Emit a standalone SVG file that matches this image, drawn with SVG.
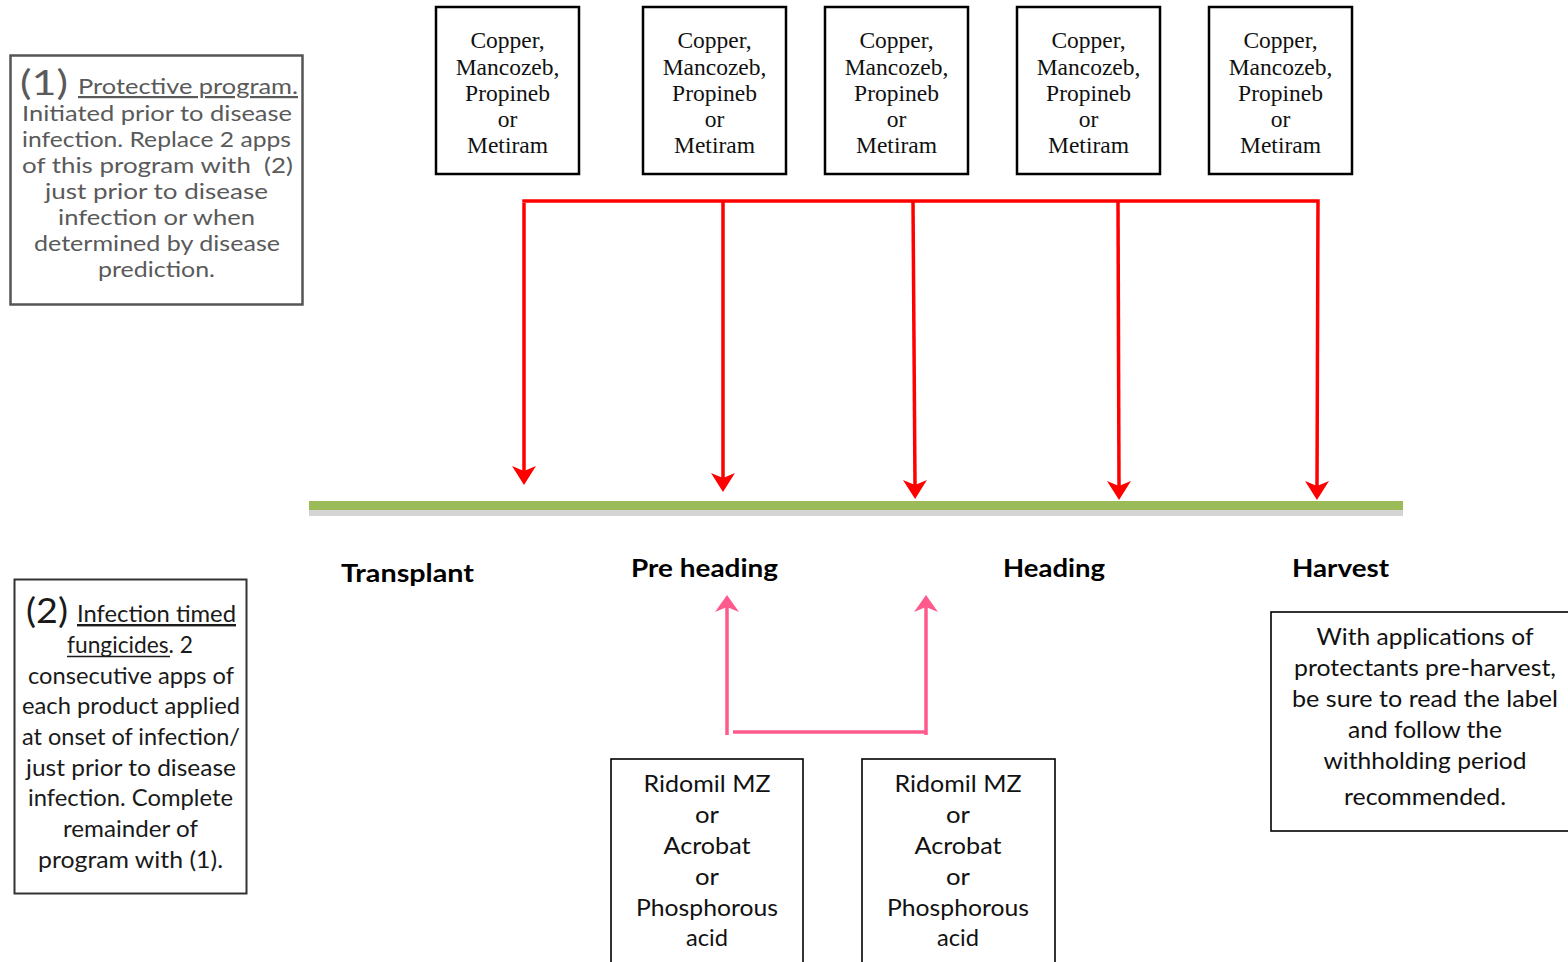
<svg xmlns="http://www.w3.org/2000/svg" width="1568" height="962" viewBox="0 0 1568 962">
<style>
.serif{font-family:"Liberation Serif","Times New Roman",serif;font-size:23.5px;fill:#111;text-anchor:middle}
.sans{font-family:Lato,"Noto Sans",sans-serif;font-size:24px;fill:#111}
.mid{text-anchor:middle}
.bold{font-weight:700;font-size:25px;fill:#000}
.gray{fill:#5a5a5a;font-size:22px}
.dark{fill:#1a1a1a;font-size:24px}
.big{font-size:34px}
.box{fill:#fff;stroke:#000;stroke-width:2.5}
.thin{fill:#fff;stroke:#000;stroke-width:1.6}
.red{fill:none;stroke:#ff0000;stroke-width:3.5}
.pink{fill:none;stroke:#ff5a8c;stroke-width:3.5}
</style>
<defs>
<marker id="ar" markerUnits="userSpaceOnUse" markerWidth="26" markerHeight="28" viewBox="-1 -14 24 28" refX="5" refY="0" orient="auto">
<path d="M0,-12 L19,0 L0,12 L5,0 z" fill="#ff0000"/>
</marker>
<marker id="ap" markerUnits="userSpaceOnUse" markerWidth="26" markerHeight="28" viewBox="-1 -14 24 28" refX="5" refY="0" orient="auto">
<path d="M0,-12 L17,0 L0,12 L5,0 z" fill="#ff5a8c"/>
</marker>
</defs>
<rect width="1568" height="962" fill="#fff"/>

<g id="note1">
<rect x="10.5" y="55.5" width="292" height="249" fill="#fff" stroke="#555" stroke-width="2.5"/>
<text class="sans gray big" x="20" y="95" textLength="48" lengthAdjust="spacingAndGlyphs">(1)</text>
<text class="sans gray" x="78" y="94" textLength="220" lengthAdjust="spacingAndGlyphs" text-decoration="underline">Protective program.</text>
<text class="sans gray" x="22" y="121" textLength="270" lengthAdjust="spacingAndGlyphs">Initiated prior to disease</text>
<text class="sans gray" x="22" y="147" textLength="269" lengthAdjust="spacingAndGlyphs">infection. Replace 2 apps</text>
<text class="sans gray" x="22" y="173" textLength="271" lengthAdjust="spacingAndGlyphs" xml:space="preserve">of this program with  (2)</text>
<text class="sans gray" x="45" y="199" textLength="223" lengthAdjust="spacingAndGlyphs">just prior to disease</text>
<text class="sans gray" x="58" y="225" textLength="197" lengthAdjust="spacingAndGlyphs">infection or when</text>
<text class="sans gray" x="34" y="251" textLength="246" lengthAdjust="spacingAndGlyphs">determined by disease</text>
<text class="sans gray" x="98" y="277" textLength="117" lengthAdjust="spacingAndGlyphs">prediction.</text>
</g>

<g id="note2">
<rect x="14.5" y="579.5" width="232" height="314" fill="#fff" stroke="#333" stroke-width="2"/>
<text class="sans dark big" x="26" y="623" textLength="42" lengthAdjust="spacingAndGlyphs">(2)</text>
<text class="sans dark" x="77" y="622" textLength="159" lengthAdjust="spacingAndGlyphs" text-decoration="underline">Infection timed</text>
<text class="sans dark" x="67" y="653" textLength="126" lengthAdjust="spacingAndGlyphs">fungicides. 2</text>
<line x1="67" y1="656.5" x2="170" y2="656.5" stroke="#1a1a1a" stroke-width="1.6"/>
<text class="sans dark" x="28" y="684" textLength="206" lengthAdjust="spacingAndGlyphs">consecutive apps of</text>
<text class="sans dark" x="22" y="714" textLength="218" lengthAdjust="spacingAndGlyphs">each product applied</text>
<text class="sans dark" x="22" y="745" textLength="218" lengthAdjust="spacingAndGlyphs">at onset of infection/</text>
<text class="sans dark" x="26" y="776" textLength="210" lengthAdjust="spacingAndGlyphs">just prior to disease</text>
<text class="sans dark" x="28" y="806" textLength="205" lengthAdjust="spacingAndGlyphs">infection. Complete</text>
<text class="sans dark" x="63" y="837" textLength="135" lengthAdjust="spacingAndGlyphs">remainder of</text>
<text class="sans dark" x="38" y="868" textLength="185" lengthAdjust="spacingAndGlyphs">program with (1).</text>
</g>

<g id="p1">
<rect class="box" x="436" y="7" width="143" height="167"/>
<text class="serif" x="507.5" y="48">Copper,</text>
<text class="serif" x="507.5" y="75">Mancozeb,</text>
<text class="serif" x="507.5" y="101">Propineb</text>
<text class="serif" x="507.5" y="127">or</text>
<text class="serif" x="507.5" y="153">Metiram</text>
</g>
<g id="p2">
<rect class="box" x="643" y="7" width="143" height="167"/>
<text class="serif" x="714.5" y="48">Copper,</text>
<text class="serif" x="714.5" y="75">Mancozeb,</text>
<text class="serif" x="714.5" y="101">Propineb</text>
<text class="serif" x="714.5" y="127">or</text>
<text class="serif" x="714.5" y="153">Metiram</text>
</g>
<g id="p3">
<rect class="box" x="825" y="7" width="143" height="167"/>
<text class="serif" x="896.5" y="48">Copper,</text>
<text class="serif" x="896.5" y="75">Mancozeb,</text>
<text class="serif" x="896.5" y="101">Propineb</text>
<text class="serif" x="896.5" y="127">or</text>
<text class="serif" x="896.5" y="153">Metiram</text>
</g>
<g id="p4">
<rect class="box" x="1017" y="7" width="143" height="167"/>
<text class="serif" x="1088.5" y="48">Copper,</text>
<text class="serif" x="1088.5" y="75">Mancozeb,</text>
<text class="serif" x="1088.5" y="101">Propineb</text>
<text class="serif" x="1088.5" y="127">or</text>
<text class="serif" x="1088.5" y="153">Metiram</text>
</g>
<g id="p5">
<rect class="box" x="1209" y="7" width="143" height="167"/>
<text class="serif" x="1280.5" y="48">Copper,</text>
<text class="serif" x="1280.5" y="75">Mancozeb,</text>
<text class="serif" x="1280.5" y="101">Propineb</text>
<text class="serif" x="1280.5" y="127">or</text>
<text class="serif" x="1280.5" y="153">Metiram</text>
</g>

<g id="timeline">
<rect x="309" y="510" width="1094" height="6" fill="#d4d4d4"/>
<rect x="309" y="501" width="1094" height="9" fill="#9bbb59"/>
</g>

<g id="stages">
<text class="sans bold" x="341" y="582" textLength="133" lengthAdjust="spacingAndGlyphs">Transplant</text>
<text class="sans bold" x="631" y="577" textLength="147" lengthAdjust="spacingAndGlyphs">Pre heading</text>
<text class="sans bold" x="1003" y="577" textLength="102" lengthAdjust="spacingAndGlyphs">Heading</text>
<text class="sans bold" x="1292" y="577" textLength="97" lengthAdjust="spacingAndGlyphs">Harvest</text>
</g>

<g id="i1">
<rect class="thin" x="611" y="759" width="192" height="230"/>
<text class="sans mid" x="707" y="792" textLength="127" lengthAdjust="spacingAndGlyphs">Ridomil MZ</text>
<text class="sans mid" x="707" y="823" textLength="24" lengthAdjust="spacingAndGlyphs">or</text>
<text class="sans mid" x="707" y="854" textLength="87" lengthAdjust="spacingAndGlyphs">Acrobat</text>
<text class="sans mid" x="707" y="885" textLength="24" lengthAdjust="spacingAndGlyphs">or</text>
<text class="sans mid" x="707" y="916" textLength="142" lengthAdjust="spacingAndGlyphs">Phosphorous</text>
<text class="sans mid" x="707" y="946" textLength="42" lengthAdjust="spacingAndGlyphs">acid</text>
</g>
<g id="i2">
<rect class="thin" x="862" y="759" width="193" height="230"/>
<text class="sans mid" x="958" y="792" textLength="127" lengthAdjust="spacingAndGlyphs">Ridomil MZ</text>
<text class="sans mid" x="958" y="823" textLength="24" lengthAdjust="spacingAndGlyphs">or</text>
<text class="sans mid" x="958" y="854" textLength="87" lengthAdjust="spacingAndGlyphs">Acrobat</text>
<text class="sans mid" x="958" y="885" textLength="24" lengthAdjust="spacingAndGlyphs">or</text>
<text class="sans mid" x="958" y="916" textLength="142" lengthAdjust="spacingAndGlyphs">Phosphorous</text>
<text class="sans mid" x="958" y="946" textLength="42" lengthAdjust="spacingAndGlyphs">acid</text>
</g>

<g id="note3">
<rect class="thin" x="1271" y="612" width="320" height="219"/>
<text class="sans mid" x="1425" y="645" textLength="217" lengthAdjust="spacingAndGlyphs">With applications of</text>
<text class="sans mid" x="1425" y="676" textLength="262" lengthAdjust="spacingAndGlyphs">protectants pre-harvest,</text>
<text class="sans mid" x="1425" y="707" textLength="266" lengthAdjust="spacingAndGlyphs">be sure to read the label</text>
<text class="sans mid" x="1425" y="738" textLength="154" lengthAdjust="spacingAndGlyphs">and follow the</text>
<text class="sans mid" x="1425" y="769" textLength="203" lengthAdjust="spacingAndGlyphs">withholding period</text>
<text class="sans mid" x="1425" y="805" textLength="162" lengthAdjust="spacingAndGlyphs">recommended.</text>
</g>

<g id="connectors">
<path class="red" d="M524,203 L524,471" marker-end="url(#ar)"/>
<path class="red" d="M522.25,201 L1318,201 L1317,486" marker-end="url(#ar)"/>
<path class="red" d="M723,201 L723,478" marker-end="url(#ar)"/>
<path class="red" d="M913,201 L915,485" marker-end="url(#ar)"/>
<path class="red" d="M1118,201 L1119,486" marker-end="url(#ar)"/>
<path class="pink" d="M727,735 L727,607" marker-end="url(#ap)"/>
<path class="pink" d="M733,732 L926,732"/>
<path class="pink" d="M926,735 L926,607" marker-end="url(#ap)"/>
</g>
</svg>
